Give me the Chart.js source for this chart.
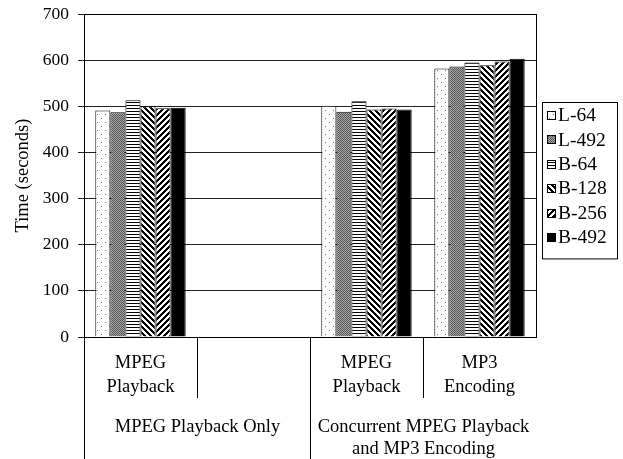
<!DOCTYPE html>
<html>
<head>
<meta charset="utf-8">
<script src="https://cdn.jsdelivr.net/npm/chart.js@4.4.0/dist/chart.umd.min.js"></script>
<style>
  html, body { margin: 0; padding: 0; background: #fff; }
  #wrap { width: 623px; height: 459px; }
</style>
</head>
<body>
<div id="wrap"><canvas id="myChart" width="623" height="459"></canvas></div>
<script>
// categories (multi-line tick labels), second slot is left empty like the original
var categories = [["MPEG", "Playback"], [""], ["MPEG", "Playback"], ["MP3", "Encoding"]]
var groupLabels = [["MPEG Playback Only"], ["Concurrent MPEG Playback", "and MP3 Encoding"]]
var groupSpans = [[0, 1], [2, 3]]

var seriesNames = ["L-64", "L-492", "B-64", "B-128", "B-256", "B-492"]
var l64  = [491, null, 501, 582]
var l492 = [487, null, 488, 586]
var b64  = [513, null, 511, 595]
var b128 = [500, null, 493, 589]
var b256 = [496, null, 495, 597]
var b492 = [497, null, 493, 603]

var yTicks = [0, 100, 200, 300, 400, 500, 600, 700]

var serif = "'Liberation Serif', 'Times New Roman', serif"
Chart.defaults.font.family = serif
Chart.defaults.font.size = 18
Chart.defaults.color = "#000"

// little tiles for the black & white fills
function tile(w, h, fn) {
  var c = document.createElement("canvas")
  c.width = w; c.height = h
  var g = c.getContext("2d")
  g.fillStyle = "#fff"
  g.fillRect(0, 0, w, h)
  for (var y = 0; y < h; y++) {
    for (var x = 0; x < w; x++) {
      var col = fn(x, y)
      if (col) { g.fillStyle = col; g.fillRect(x, y, 1, 1) }
    }
  }
  return g.createPattern(c, "repeat")
}

var fills = [
  tile(8, 8, function(x, y){ return ((x == 1 && y == 2) || (x == 5 && y == 6)) ? "#777" : null }),
  tile(2, 2, function(x, y){ return (x + y) % 2 == 0 ? "#555" : "#a8a8a8" }),
  tile(4, 3, function(x, y){ return y == 0 ? "#000" : null }),
  tile(6, 6, function(x, y){ return ((x - y + 12) % 6) < 3 ? "#000" : null }),
  tile(6, 6, function(x, y){ return ((x + y) % 6) < 3 ? "#000" : null }),
  "#000"
]

var allData = [l64, l492, b64, b128, b256, b492]
var datasets = []
for (var i = 0; i < seriesNames.length; i++) {
  datasets.push({
    label: seriesNames[i],
    data: allData[i],
    backgroundColor: fills[i],
    borderColor: "#000",
    borderWidth: 1,
    categoryPercentage: 0.8,
    barPercentage: 1.0
  })
}

// frame, category separators, group labels and the legend box
var extras = {
  id: "extras",
  afterDraw: function(chart) {
    var ctx = chart.ctx
    var a = chart.chartArea
    var bottom = chart.height
    ctx.save()
    ctx.strokeStyle = "#000"
    ctx.lineWidth = 1
    // plot frame
    ctx.strokeRect(Math.round(a.left) + 0.5, Math.round(a.top) + 0.5, Math.round(a.right - a.left), Math.round(a.bottom - a.top))

    var n = categories.length
    var step = (a.right - a.left) / n
    function edge(i) { return Math.round(a.left + step * i) + 0.5 }
    ctx.beginPath()
    ctx.moveTo(edge(0), a.bottom); ctx.lineTo(edge(0), bottom)
    for (var i = 1; i < n; i++) {
      var isGroupEdge = false
      groupSpans.forEach(function(s){ if (s[0] == i) isGroupEdge = true })
      ctx.moveTo(edge(i), a.bottom)
      ctx.lineTo(edge(i), isGroupEdge ? bottom : a.bottom + 61)
    }
    ctx.stroke()

    ctx.fillStyle = "#000"
    ctx.font = "18.5px " + serif
    ctx.textAlign = "center"
    ctx.textBaseline = "middle"
    groupSpans.forEach(function(s, gi) {
      var cx = (edge(s[0]) + edge(s[1] + 1)) / 2
      groupLabels[gi].forEach(function(t, li) {
        ctx.fillText(t, cx, a.bottom + 90 + li * 22)
      })
    })

    // legend
    var lx = 542, ly = 102, lw = 75, rowH = 24.4
    var lh = rowH * seriesNames.length + 10
    ctx.strokeRect(lx + 0.5, ly + 0.5, lw, lh)
    ctx.textAlign = "left"
    ctx.font = "19.5px " + serif
    for (var k = 0; k < seriesNames.length; k++) {
      var cy = ly + 13 + k * rowH
      ctx.fillStyle = fills[k]
      ctx.fillRect(lx + 5, Math.round(cy - 4), 9, 9)
      ctx.strokeRect(lx + 5.5, Math.round(cy - 4) + 0.5, 8, 8)
      ctx.fillStyle = "#000"
      ctx.fillText(seriesNames[k], lx + 16, cy + 1)
    }
    ctx.restore()
  }
}

var myChart = document.getElementById("myChart").getContext("2d")
var chart = new Chart(myChart, {
  type: "bar",
  data: { labels: categories, datasets: datasets },
  options: {
    responsive: false,
    animation: false,
    layout: { padding: { top: 14, right: 87, left: 8, bottom: 0 } },
    plugins: { legend: { display: false }, tooltip: { enabled: false } },
    scales: {
      x: {
        grid: { display: false, drawTicks: false },
        border: { color: "#000" },
        ticks: { padding: 14, maxRotation: 0, autoSkip: false, font: { size: 18.5, lineHeight: 1.3 } },
        afterFit: function(s) { s.height = 122; s.paddingLeft = 0; s.paddingRight = 0 }
      },
      y: {
        min: 0,
        max: 700,
        afterBuildTicks: function(s) { s.ticks = yTicks.map(function(v){ return { value: v } }) },
        grid: { color: "#222", drawTicks: true, tickLength: 6 },
        border: { color: "#000" },
        ticks: { padding: 9, font: { size: 17.5 } },
        title: { display: true, text: "Time (seconds)", font: { size: 18.5 }, padding: { top: 4, bottom: 0 } },
        afterFit: function(s) { s.width = 76; s.paddingTop = 0; s.paddingBottom = 0 }
      }
    }
  },
  plugins: [extras]
})
</script>
</body>
</html>
